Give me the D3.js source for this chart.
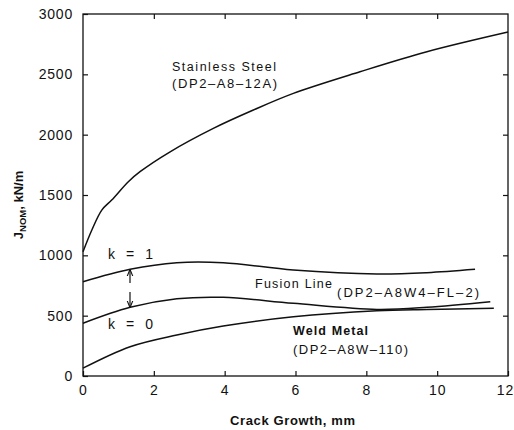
<!DOCTYPE html>
<html><head><meta charset="utf-8">
<script src="https://cdn.jsdelivr.net/npm/d3@7"></script>
<style>
body{margin:0;background:#fff;}
text{font-family:"Liberation Sans",Arial,sans-serif;fill:#111;}
</style></head>
<body><svg id="c" width="514" height="430"></svg>
<script>
const xTicks = [0, 2, 4, 6, 8, 10, 12];
const yTicks = [0, 500, 1000, 1500, 2000, 2500, 3000];

const stainlessX = [0, 0.25, 0.53, 0.81, 1.28, 1.61, 2.46, 3.68, 4.81, 5.94, 7.82, 9.71, 12.0];
const stainlessY = [1030, 1210, 1375, 1458, 1610, 1693, 1858, 2052, 2204, 2342, 2521, 2687, 2850];

const k1X = [0, 1.33, 2.65, 3.96, 5.94, 8.3, 9.71, 11.07];
const k1Y = [781, 884, 939, 939, 878, 845, 856, 884];

const k0X = [0, 1.33, 2.65, 3.96, 5.94, 8.3, 9.71, 11.5];
const k0Y = [437, 569, 640, 652, 602, 552, 569, 616];

const weldX = [0, 1.33, 2.65, 3.96, 5.94, 8.3, 9.71, 11.6];
const weldY = [65, 243, 340, 414, 491, 541, 552, 561];

const svg = d3.select("#c");
const x = d3.scaleLinear().domain([0, 12]).range([83, 508]);
const y = d3.scaleLinear().domain([0, 3000]).range([376, 14]);

svg.append("rect").attr("x", 83).attr("y", 14).attr("width", 425).attr("height", 362)
  .attr("fill", "none").attr("stroke", "#111").attr("stroke-width", 1.3);

const tl = 5;
svg.append("g").attr("transform", "translate(0,376)")
  .call(d3.axisBottom(x).tickValues(xTicks).tickSize(-tl).tickPadding(9).tickFormat(d3.format("d")))
  .call(g => g.select(".domain").remove())
  .call(g => g.selectAll("text").attr("font-size", 14).attr("letter-spacing", 1).attr("font-family", "Liberation Sans"))
  .call(g => g.selectAll(".tick").filter(d => d === 12).select("text").attr("dx", -3));
svg.append("g").attr("transform", "translate(0,14)")
  .call(d3.axisTop(x).tickValues(xTicks.slice(1, -1)).tickSize(-tl).tickFormat(""))
  .call(g => g.select(".domain").remove());
svg.append("g").attr("transform", "translate(83,0)")
  .call(d3.axisLeft(y).tickValues(yTicks).tickSize(-tl).tickPadding(10).tickFormat(d3.format("d")))
  .call(g => g.select(".domain").remove())
  .call(g => g.selectAll("text").attr("font-size", 14).attr("letter-spacing", 0.8).attr("font-family", "Liberation Sans"));
svg.append("g").attr("transform", "translate(508,0)")
  .call(d3.axisRight(y).tickValues(yTicks.slice(1, -1)).tickSize(-tl).tickFormat(""))
  .call(g => g.select(".domain").remove());
svg.selectAll(".tick line").attr("stroke", "#111").attr("stroke-width", 1.2);

const line = d3.line().x(d => x(d[0])).y(d => y(d[1])).curve(d3.curveCatmullRom.alpha(0.5));
function draw(xs, ys) {
  svg.append("path").datum(xs.map((v, i) => [v, ys[i]])).attr("d", line)
    .attr("fill", "none").attr("stroke", "#111").attr("stroke-width", 1.5);
}
draw(stainlessX, stainlessY);
draw(k1X, k1Y);
draw(k0X, k0Y);
draw(weldX, weldY);

svg.append("defs").append("marker").attr("id", "ah").attr("viewBox", "0 0 10 10")
  .attr("refX", 9).attr("refY", 5).attr("markerWidth", 6).attr("markerHeight", 6).attr("orient", "auto")
  .append("path").attr("d", "M0,1 L10,5 L0,9").attr("fill", "none").attr("stroke", "#111").attr("stroke-width", 1.5);
svg.append("line").attr("x1", 130).attr("y1", 283).attr("x2", 130).attr("y2", 270)
  .attr("stroke", "#111").attr("stroke-width", 1.2).attr("marker-end", "url(#ah)");
svg.append("line").attr("x1", 130).attr("y1", 292).attr("x2", 130).attr("y2", 307)
  .attr("stroke", "#111").attr("stroke-width", 1.2).attr("marker-end", "url(#ah)");

function label(t, xx, yy, size, weight, len) {
  const el = svg.append("text").attr("x", xx).attr("y", yy).attr("font-size", size)
    .attr("font-weight", weight || "normal").attr("xml:space", "preserve").text(t);
  if (len) el.attr("textLength", len).attr("lengthAdjust", "spacing");
}
label("Stainless Steel", 172, 71, 12.5, "normal", 104);
label("(DP2\u2013A8\u201312A)", 172, 88, 13, "normal", 105);
label("k  =  1", 108, 259, 14, "normal", 45);
label("k  =  0", 108, 329, 14, "normal", 45);
label("Fusion Line", 255, 288, 12.5, "normal", 77);
label("(DP2\u2013A8W4\u2013FL\u20132)", 337, 297, 13, "normal", 142);
label("Weld Metal", 293, 335, 12.5, "bold", 75);
label("(DP2\u2013A8W\u2013110)", 293, 354, 13, "normal", 115);

svg.append("text").attr("x", 230).attr("y", 425).attr("textLength", 125).attr("lengthAdjust", "spacing")
  .attr("font-size", 13).attr("font-weight", "bold").text("Crack Growth, mm");

const yl = svg.append("text").attr("transform", "translate(23,205) rotate(-90)")
  .attr("text-anchor", "middle").attr("font-size", 13).attr("font-weight", "bold");
yl.append("tspan").text("J");
yl.append("tspan").attr("font-size", 9.5).attr("dy", 3).text("NOM");
yl.append("tspan").attr("dy", -3).text(", kN/m");
</script></body></html>
